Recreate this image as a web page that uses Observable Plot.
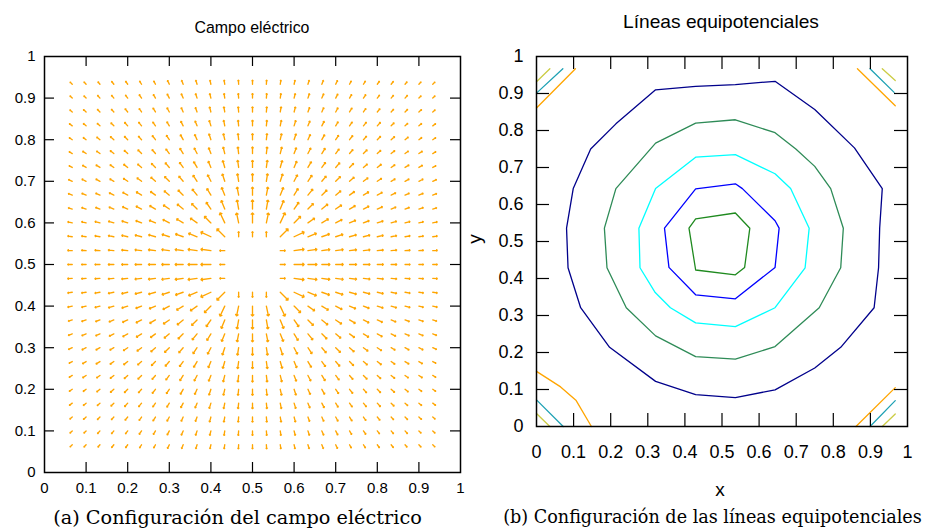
<!DOCTYPE html>
<html>
<head>
<meta charset="utf-8">
<script src="https://cdn.jsdelivr.net/npm/d3@7"></script>
<script src="https://cdn.jsdelivr.net/npm/@observablehq/plot@0.6"></script>
<style>
  body { margin: 0; background: #fff; }
  #wrap { position: relative; width: 928px; height: 532px; overflow: hidden; background: #fff; }
  .panel { position: absolute; top: 0; }
  .txt { position: absolute; white-space: nowrap; line-height: 1; color: #000; }
  .sans { font-family: "Liberation Sans", Arial, sans-serif; }
  .serif { font-family: "DejaVu Serif", "Liberation Serif", serif; }
</style>
</head>
<body>
<div id="wrap"></div>
<script>
// ---------- Data: electric field (left panel) ----------
const gridX = [0.0667, 0.1, 0.1333, 0.1667, 0.2, 0.2333, 0.2667, 0.3, 0.3333, 0.3667, 0.4, 0.4333, 0.4667, 0.5,
               0.5333, 0.5667, 0.6, 0.6333, 0.6667, 0.7, 0.7333, 0.7667, 0.8, 0.8333, 0.8667, 0.9, 0.9333];
const gridY = [0.9333, 0.9, 0.8667, 0.8333, 0.8, 0.7667, 0.7333, 0.7, 0.6667, 0.6333, 0.6, 0.5667, 0.5333, 0.5,
               0.4667, 0.4333, 0.4, 0.3667, 0.3333, 0.3, 0.2667, 0.2333, 0.2, 0.1667, 0.1333, 0.1, 0.0667];
// arrow direction (degrees clockwise from north), one row per gridY value, "x" = no arrow
const fieldAngle = [
  "-45 -43 -40 -38 -35 -32 -28 -25 -21 -17 -13 -9 -4 0 4 9 13 17 21 25 28 32 35 38 40 43 45",
  "-47 -45 -42 -40 -37 -34 -30 -27 -23 -18 -14 -9 -5 0 5 9 14 18 23 27 30 34 37 40 42 45 47",
  "-50 -48 -45 -42 -39 -36 -32 -29 -24 -20 -15 -10 -5 0 5 10 15 20 24 29 32 36 39 42 45 48 50",
  "-52 -50 -48 -45 -42 -39 -35 -31 -27 -22 -17 -11 -6 0 6 11 17 22 27 31 35 39 42 45 48 50 52",
  "-55 -53 -51 -48 -45 -42 -38 -34 -29 -24 -18 -13 -6 0 6 13 18 24 29 34 38 42 45 48 51 53 55",
  "-58 -56 -54 -51 -48 -45 -41 -37 -32 -27 -21 -14 -7 0 7 14 21 27 32 37 41 45 48 51 54 56 58",
  "-62 -60 -58 -55 -52 -49 -45 -41 -36 -30 -23 -16 -8 0 8 16 23 30 36 41 45 49 52 55 58 60 62",
  "-65 -63 -61 -59 -56 -53 -49 -45 -40 -34 -27 -18 -9 0 9 18 27 34 40 45 49 53 56 59 61 63 65",
  "-69 -67 -66 -63 -61 -58 -54 -50 -45 -39 -31 -22 -11 0 11 22 31 39 45 50 54 58 61 63 66 67 69",
  "-73 -72 -70 -68 -66 -63 -60 -56 -51 -45 -35 -22 -10 0 10 22 35 45 51 56 60 63 66 68 70 72 73",
  "-77 -76 -75 -73 -72 -69 -67 -63 -59 -55 -45 -25 -12 0 12 25 45 55 59 63 67 69 72 73 75 76 77",
  "-81 -81 -80 -79 -77 -76 -74 -72 -70 -68 -65 -45 0 0 0 45 65 68 70 72 74 76 77 79 80 81 81",
  "-86 -85 -85 -84 -84 -83 -83 -82 -82 -82 -82 -90 x x x 90 82 82 82 82 83 83 84 84 85 85 86",
  "-90 -90 -90 -90 -90 -90 -90 -90 -90 -90 -90 -90 x x x 90 90 90 90 90 90 90 90 90 90 90 90",
  "-94 -95 -95 -96 -96 -97 -97 -98 -98 -98 -98 -90 x x x 90 98 98 98 98 97 97 96 96 95 95 94",
  "-99 -99 -100 -101 -103 -104 -106 -108 -110 -112 -115 -135 180 180 180 135 115 112 110 108 106 104 103 101 100 99 99",
  "-103 -104 -105 -107 -108 -111 -113 -117 -121 -125 -135 -155 -168 180 168 155 135 125 121 117 113 111 108 107 105 104 103",
  "-107 -108 -110 -112 -114 -117 -120 -124 -129 -135 -145 -158 -170 180 170 158 145 135 129 124 120 117 114 112 110 108 107",
  "-111 -113 -114 -117 -119 -122 -126 -130 -135 -141 -149 -158 -169 180 169 158 149 141 135 130 126 122 119 117 114 113 111",
  "-115 -117 -119 -121 -124 -127 -131 -135 -140 -146 -153 -162 -171 180 171 162 153 146 140 135 131 127 124 121 119 117 115",
  "-118 -120 -122 -125 -128 -131 -135 -139 -144 -150 -157 -164 -172 180 172 164 157 150 144 139 135 131 128 125 122 120 118",
  "-122 -124 -126 -129 -132 -135 -139 -143 -148 -153 -159 -166 -173 180 173 166 159 153 148 143 139 135 132 129 126 124 122",
  "-125 -127 -129 -132 -135 -138 -142 -146 -151 -156 -162 -167 -174 180 174 167 162 156 151 146 142 138 135 132 129 127 125",
  "-128 -130 -132 -135 -138 -141 -145 -149 -153 -158 -163 -169 -174 180 174 169 163 158 153 149 145 141 138 135 132 130 128",
  "-130 -132 -135 -138 -141 -144 -148 -151 -156 -160 -165 -170 -175 180 175 170 165 160 156 151 148 144 141 138 135 132 130",
  "-133 -135 -138 -140 -143 -146 -150 -153 -157 -162 -166 -171 -175 180 175 171 166 162 157 153 150 146 143 140 138 135 133",
  "-135 -137 -140 -142 -145 -148 -152 -155 -159 -163 -167 -171 -176 180 176 171 167 163 159 155 152 148 145 142 140 137 135"
];
// arrow length (pixels), same layout
const fieldLength = [
  "3 3 3 3.5 3.5 3.5 3.5 4 4 4 4 4 4 4 4 4 4 4 4 4 3.5 3.5 3.5 3.5 3 3 3",
  "3 3 3.5 3.5 3.5 4 4 4.5 4.5 4.5 4.5 4.5 4.5 4.5 4.5 4.5 4.5 4.5 4.5 4.5 4 4 3.5 3.5 3.5 3 3",
  "3 3.5 3.5 3.5 4 4 4.5 4.5 4.5 4.5 5 5 5 5 5 5 5 4.5 4.5 4.5 4.5 4 4 3.5 3.5 3.5 3",
  "3.5 3.5 3.5 4 4.5 4.5 4.5 4.5 5 5 5.5 5.5 5.5 5.5 5.5 5.5 5.5 5 5 4.5 4.5 4.5 4.5 4 3.5 3.5 3.5",
  "3.5 3.5 4 4.5 4.5 4.5 5 5 5.5 5.5 6 6 6 6 6 6 6 5.5 5.5 5 5 4.5 4.5 4.5 4 3.5 3.5",
  "3.5 4 4 4.5 4.5 5 5 5.5 6 6 6 6.5 6.5 6.5 6.5 6.5 6 6 6 5.5 5 5 4.5 4.5 4 4 3.5",
  "3.5 4 4.5 4.5 5 5 5.5 6 6 6.5 6.5 7 7 7 7 7 6.5 6.5 6 6 5.5 5 5 4.5 4.5 4 3.5",
  "4 4.5 4.5 4.5 5 5.5 6 6.5 6.5 7 7 7.5 7.5 7.5 7.5 7.5 7 7 6.5 6.5 6 5.5 5 4.5 4.5 4.5 4",
  "4 4.5 4.5 5 5.5 6 6 6.5 7 7.5 7.5 8 8 8 8 8 7.5 7.5 7 6.5 6 6 5.5 5 4.5 4.5 4",
  "4 4.5 4.5 5 5.5 6 6.5 7 7.5 7.5 8 9 9 9 9 9 8 7.5 7.5 7 6.5 6 5.5 5 4.5 4.5 4",
  "4.5 4.5 5 5.5 6 6 6.5 7 7.5 8 9 11 10 10 10 11 9 8 7.5 7 6.5 6 6 5.5 5 4.5 4.5",
  "4.5 4.5 5 5.5 6 6.5 7 7.5 8 9 11 11 5 5 5 11 11 9 8 7.5 7 6.5 6 5.5 5 4.5 4.5",
  "4.5 4.5 5 5.5 6 6.5 7 7.5 8 9 10 5 x x x 5 10 9 8 7.5 7 6.5 6 5.5 5 4.5 4.5",
  "4.5 4.5 5 5.5 6 6.5 7 7.5 8 9 10 5 x x x 5 10 9 8 7.5 7 6.5 6 5.5 5 4.5 4.5",
  "4.5 4.5 5 5.5 6 6.5 7 7.5 8 9 10 5 x x x 5 10 9 8 7.5 7 6.5 6 5.5 5 4.5 4.5",
  "4.5 4.5 5 5.5 6 6.5 7 7.5 8 9 11 11 5 5 5 11 11 9 8 7.5 7 6.5 6 5.5 5 4.5 4.5",
  "4.5 4.5 5 5.5 6 6 6.5 7 7.5 8 9 11 10 10 10 11 9 8 7.5 7 6.5 6 6 5.5 5 4.5 4.5",
  "4 4.5 4.5 5 5.5 6 6.5 7 7.5 7.5 8 9 9 9 9 9 8 7.5 7.5 7 6.5 6 5.5 5 4.5 4.5 4",
  "4 4.5 4.5 5 5.5 6 6 6.5 7 7.5 7.5 8 8 8 8 8 7.5 7.5 7 6.5 6 6 5.5 5 4.5 4.5 4",
  "4 4.5 4.5 4.5 5 5.5 6 6.5 6.5 7 7 7.5 7.5 7.5 7.5 7.5 7 7 6.5 6.5 6 5.5 5 4.5 4.5 4.5 4",
  "3.5 4 4.5 4.5 5 5 5.5 6 6 6.5 6.5 7 7 7 7 7 6.5 6.5 6 6 5.5 5 5 4.5 4.5 4 3.5",
  "3.5 4 4 4.5 4.5 5 5 5.5 6 6 6 6.5 6.5 6.5 6.5 6.5 6 6 6 5.5 5 5 4.5 4.5 4 4 3.5",
  "3.5 3.5 4 4.5 4.5 4.5 5 5 5.5 5.5 6 6 6 6 6 6 6 5.5 5.5 5 5 4.5 4.5 4.5 4 3.5 3.5",
  "3.5 3.5 3.5 4 4.5 4.5 4.5 4.5 5 5 5.5 5.5 5.5 5.5 5.5 5.5 5.5 5 5 4.5 4.5 4.5 4.5 4 3.5 3.5 3.5",
  "3 3.5 3.5 3.5 4 4 4.5 4.5 4.5 4.5 5 5 5 5 5 5 5 4.5 4.5 4.5 4.5 4 4 3.5 3.5 3.5 3",
  "3 3 3.5 3.5 3.5 4 4 4.5 4.5 4.5 4.5 4.5 4.5 4.5 4.5 4.5 4.5 4.5 4.5 4.5 4 4 3.5 3.5 3.5 3 3",
  "3 3 3 3.5 3.5 3.5 3.5 4 4 4 4 4 4 4 4 4 4 4 4 4 3.5 3.5 3.5 3.5 3 3 3"
];

// ---------- Data: equipotential lines (right panel), vertices [x, y] ----------
const lineOuterNavy = [[0.081,0.536],[0.099,0.643],[0.146,0.75],[0.214,0.818],[0.321,0.91],[0.429,0.919],[0.536,0.924],
  [0.643,0.933],[0.75,0.857],[0.857,0.753],[0.932,0.643],[0.925,0.536],[0.922,0.429],[0.91,0.321],[0.82,0.214],
  [0.75,0.158],[0.643,0.099],[0.536,0.078],[0.429,0.086],[0.321,0.122],[0.197,0.214],[0.119,0.321],[0.085,0.429],[0.081,0.536]];
const lineSeaGreen = [[0.429,0.82],[0.536,0.829],[0.643,0.794],[0.699,0.75],[0.75,0.703],[0.793,0.643],[0.827,0.536],
  [0.82,0.429],[0.762,0.321],[0.643,0.216],[0.536,0.182],[0.429,0.189],[0.321,0.245],[0.242,0.321],[0.19,0.429],
  [0.183,0.536],[0.214,0.643],[0.321,0.766],[0.429,0.82]];
const lineCyan = [[0.429,0.728],[0.536,0.735],[0.643,0.683],[0.685,0.643],[0.735,0.536],[0.724,0.429],[0.643,0.321],
  [0.536,0.27],[0.429,0.28],[0.361,0.321],[0.32,0.362],[0.279,0.429],[0.276,0.536],[0.321,0.643],[0.429,0.728]];
const lineBlue = [[0.429,0.642],[0.536,0.656],[0.555,0.643],[0.643,0.556],[0.654,0.536],[0.643,0.43],[0.536,0.345],
  [0.429,0.356],[0.357,0.43],[0.345,0.536],[0.429,0.642]];
const lineGreen = [[0.429,0.561],[0.536,0.577],[0.575,0.536],[0.561,0.43],[0.536,0.41],[0.429,0.423],[0.411,0.536],[0.429,0.561]];
const cornerOrange = [
  [[0,0.861],[0.105,0.967]], [[0.865,0.967],[0.967,0.867]],
  [[0,0.149],[0.065,0.107],[0.107,0.07],[0.148,0]], [[0.861,0],[0.967,0.105]]];
const cornerTeal = [
  [[0,0.901],[0.071,0.967]], [[0.899,0.967],[0.964,0.903]],
  [[0,0.072],[0.072,0]], [[0.899,0],[0.967,0.07]]];
const cornerYellow = [
  [[0,0.932],[0.036,0.967]], [[0.932,0.967],[0.967,0.935]],
  [[0,0.035],[0.036,0]], [[0.932,0],[0.967,0.034]]];
const lineColors = { navy: "#00008b", seaGreen: "#2e8b57", cyan: "#00ffff", blue: "#0000ff", green: "#1f8a1f",
                     orange: "#ffa500", teal: "#1ea1b4", yellow: "#cccc44" };

// ---------- Tick labels and texts ----------
const tickValues = [0, 0.1, 0.2, 0.3, 0.4, 0.5, 0.6, 0.7, 0.8, 0.9, 1];
const innerTicks = [0.1, 0.2, 0.3, 0.4, 0.5, 0.6, 0.7, 0.8, 0.9];
const titleLeft = "Campo eléctrico";
const titleRight = "Líneas equipotenciales";
const captionLeft = "(a) Configuración del campo eléctrico";
const captionRight = "(b) Configuración de las líneas equipotenciales";

// ---------- Build vector table ----------
const vectors = [];
gridY.forEach((yv, r) => {
  const angs = fieldAngle[r].trim().split(/\s+/);
  const lens = fieldLength[r].trim().split(/\s+/);
  gridX.forEach((xv, c) => {
    if (angs[c] === "x" || lens[c] === "x") return;
    vectors.push({x: xv, y: yv, rotate: +angs[c], length: +lens[c]});
  });
});

const wrap = document.getElementById("wrap");

function frameTicks(inner, plotW, plotH, tick) {
  return [
    Plot.tickX(inner, {x: d => d, insetTop: plotH - tick, stroke: "black", strokeWidth: 1.2}),
    Plot.tickX(inner, {x: d => d, insetBottom: plotH - tick, stroke: "black", strokeWidth: 1.2}),
    Plot.tickY(inner, {y: d => d, insetRight: plotW - tick, stroke: "black", strokeWidth: 1.2}),
    Plot.tickY(inner, {y: d => d, insetLeft: plotW - tick, stroke: "black", strokeWidth: 1.2})
  ];
}

// ---------- Left panel ----------
const L = {w: 470, h: 500, ml: 44, mr: 10, mt: 56, mb: 28};
const left = Plot.plot({
  width: L.w, height: L.h,
  marginLeft: L.ml, marginRight: L.mr, marginTop: L.mt, marginBottom: L.mb,
  x: {domain: [0, 1], axis: null},
  y: {domain: [0, 1], axis: null},
  length: {type: "identity"},
  style: {fontFamily: "'Liberation Sans', Arial, sans-serif", fontSize: "15px", color: "black", background: "transparent"},
  marks: [
    Plot.vector(vectors, {x: "x", y: "y", rotate: "rotate", length: "length", anchor: "start",
      shape: "arrow", r: 2.2, stroke: "#ffa500", strokeWidth: 1.35}),
    ...frameTicks(innerTicks, L.w - L.ml - L.mr, L.h - L.mt - L.mb, 10),
    Plot.frame({stroke: "black", strokeWidth: 1.5}),
    Plot.axisX(tickValues, {anchor: "bottom", label: null, tickSize: 0, tickPadding: 10, fontSize: 15, tickFormat: d => String(d)}),
    Plot.axisY(tickValues, {anchor: "left", label: null, tickSize: 0, tickPadding: 9, fontSize: 15, tickFormat: d => String(d)})
  ]
});
left.classList.add("panel");
left.style.left = "0px";
wrap.appendChild(left);

// ---------- Right panel ----------
const R = {w: 468, h: 500, ml: 76, mr: 21, mt: 56, mb: 74};
const contourMarks = [];
const addLine = (pts, color) => contourMarks.push(Plot.line(pts, {x: d => d[0], y: d => d[1], stroke: color, strokeWidth: 1.3}));
addLine(lineOuterNavy, lineColors.navy);
addLine(lineSeaGreen, lineColors.seaGreen);
addLine(lineCyan, lineColors.cyan);
addLine(lineBlue, lineColors.blue);
addLine(lineGreen, lineColors.green);
cornerOrange.forEach(p => addLine(p, lineColors.orange));
cornerTeal.forEach(p => addLine(p, lineColors.teal));
cornerYellow.forEach(p => addLine(p, lineColors.yellow));

const right = Plot.plot({
  width: R.w, height: R.h,
  marginLeft: R.ml, marginRight: R.mr, marginTop: R.mt, marginBottom: R.mb,
  x: {domain: [0, 1], axis: null},
  y: {domain: [0, 1], axis: null},
  style: {fontFamily: "'Liberation Sans', Arial, sans-serif", fontSize: "18px", color: "black", background: "transparent"},
  marks: [
    ...contourMarks,
    ...frameTicks(innerTicks, R.w - R.ml - R.mr, R.h - R.mt - R.mb, 13),
    Plot.frame({stroke: "black", strokeWidth: 1.5}),
    Plot.axisX(tickValues, {anchor: "bottom", label: null, tickSize: 0, tickPadding: 19, fontSize: 18, tickFormat: d => String(d)}),
    Plot.axisY(tickValues, {anchor: "left", label: null, tickSize: 0, tickPadding: 13, fontSize: 18, tickFormat: d => String(d)})
  ]
});
right.classList.add("panel");
right.style.left = "460px";
wrap.appendChild(right);

// ---------- Texts ----------
function addText(str, cls, cx, cy, size, targetW, rotate) {
  const el = document.createElement("div");
  el.className = "txt " + cls;
  el.textContent = str;
  el.style.fontSize = size + "px";
  wrap.appendChild(el);
  if (targetW) {
    const w = el.getBoundingClientRect().width;
    el.style.fontSize = (size * targetW / w) + "px";
  }
  el.style.left = cx + "px";
  el.style.top = cy + "px";
  el.style.transform = "translate(-50%, -50%)" + (rotate ? " rotate(" + rotate + "deg)" : "");
  return el;
}
addText(titleLeft, "sans", 252, 28, 16, 115);
addText(titleRight, "sans", 721, 22, 19, 196);
addText("y", "sans", 474, 239, 19, null, -90);
addText("x", "sans", 720, 489, 19);
addText(captionLeft, "serif", 237.5, 518, 19, 369);
addText(captionRight, "serif", 712.5, 518, 19, 419);
</script>
</body>
</html>
